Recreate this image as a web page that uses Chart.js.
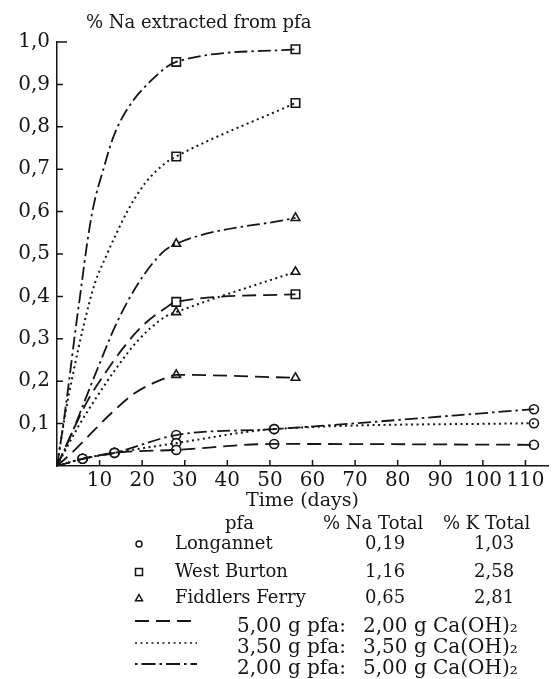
<!DOCTYPE html>
<html>
<head>
  <meta charset="UTF-8" />
  <title>% Na extracted from pfa</title>
  <style>
    body {
      margin: 0;
      background-color: white;
    }
    canvas {
      display: block;
    }
  </style>
  <script src="https://cdn.jsdelivr.net/npm/chart.js"></script>
</head>
<body>

<canvas id="chart" width="556" height="679"></canvas>

<script>
// Axis ticks
const X_TICKS = [10, 20, 30, 40, 50, 60, 70, 80, 90, 100, 110];
const Y_TICKS = [0.1, 0.2, 0.3, 0.4, 0.5, 0.6, 0.7, 0.8, 0.9, 1.0];

// Measured points (markers), days and % Na extracted
const DAYS_LG = [6, 13.5, 28, 51, 112];
const LG_DASH = [0.017, 0.031, 0.038, 0.052, 0.050];
const LG_DOT = [0.017, 0.031, 0.054, 0.087, 0.101];
const LG_DASHDOT = [0.017, 0.031, 0.073, 0.087, 0.134];

const DAYS_WB = [28, 56];
const WB_DASH = [0.387, 0.405];
const WB_DOT = [0.730, 0.856];
const WB_DASHDOT = [0.953, 0.983];

const DAYS_FF = [28, 56];
const FF_DASH = [0.215, 0.208];
const FF_DOT = [0.363, 0.458];
const FF_DASHDOT = [0.524, 0.585];

// Hand drawn curve from the origin up to the first marker
const TR_LG_X = [0];
const TR_LG_Y = [0];
const TR_WB_DASHDOT_X = [0, 1.5, 2.7, 4.2, 5.8, 7.0, 8.5, 10.9, 13.2, 16.4, 22.2];
const TR_WB_DASHDOT_Y = [0, 0.10, 0.19, 0.31, 0.43, 0.52, 0.61, 0.70, 0.775, 0.84, 0.91];
const TR_WB_DOT_X = [0, 1.9, 3.8, 6.2, 8.9, 11.5, 13.6, 16.7, 20.7, 25.4];
const TR_WB_DOT_Y = [0, 0.12, 0.219, 0.329, 0.431, 0.494, 0.541, 0.604, 0.667, 0.714];
const TR_WB_DASH_X = [0, 3.8, 7.3, 11.3, 15.2, 19.9, 25.4];
const TR_WB_DASH_Y = [0, 0.085, 0.156, 0.219, 0.274, 0.329, 0.372];
const TR_FF_DASHDOT_X = [0, 3.4, 6.6, 9.7, 14.0, 19.1, 24.6];
const TR_FF_DASHDOT_Y = [0, 0.075, 0.156, 0.234, 0.337, 0.431, 0.502];
const TR_FF_DOT_X = [0, 5.0, 8.9, 13.6, 19.1, 25.4];
const TR_FF_DOT_Y = [0, 0.093, 0.156, 0.226, 0.297, 0.352];
const TR_FF_DASH_X = [0, 4.2, 8.1, 12.8, 18.3, 25.4];
const TR_FF_DASH_Y = [0, 0.038, 0.078, 0.125, 0.172, 0.207];

// Legend table
const PFA_NAMES = ["Longannet", "West Burton", "Fiddlers Ferry"];
const NA_TOTAL = ["0,19", "1,16", "0,65"];
const K_TOTAL = ["1,03", "2,58", "2,81"];
const RATIO_PFA = ["5,00 g pfa:", "3,50 g pfa:", "2,00 g pfa:"];
const RATIO_CA = ["2,00 g Ca(OH)\u2082", "3,50 g Ca(OH)\u2082", "5,00 g Ca(OH)\u2082"];

const INK = "#151515";
const SERIF = "'DejaVu Serif', 'Liberation Serif', serif";
const DASHES = {
    dash: [14, 7],
    dot: [2, 3.5],
    dashdot: [13, 4, 2.5, 4]
};
const MARKERS = { LG: "circle", WB: "rect", FF: "triangle" };
const RADIUS = { circle: 4.5, rect: 6, triangle: 5 };

function pts(xs, ys) {
    return xs.map((x, i) => ({ x: x, y: ys[i] }));
}

const series = [
    { m: "LG", dash: "dash", tx: TR_LG_X, ty: TR_LG_Y, dx: DAYS_LG, dy: LG_DASH },
    { m: "LG", dash: "dot", tx: TR_LG_X, ty: TR_LG_Y, dx: DAYS_LG, dy: LG_DOT },
    { m: "LG", dash: "dashdot", tx: TR_LG_X, ty: TR_LG_Y, dx: DAYS_LG, dy: LG_DASHDOT },
    { m: "WB", dash: "dash", tx: TR_WB_DASH_X, ty: TR_WB_DASH_Y, dx: DAYS_WB, dy: WB_DASH },
    { m: "WB", dash: "dot", tx: TR_WB_DOT_X, ty: TR_WB_DOT_Y, dx: DAYS_WB, dy: WB_DOT },
    { m: "WB", dash: "dashdot", tx: TR_WB_DASHDOT_X, ty: TR_WB_DASHDOT_Y, dx: DAYS_WB, dy: WB_DASHDOT },
    { m: "FF", dash: "dash", tx: TR_FF_DASH_X, ty: TR_FF_DASH_Y, dx: DAYS_FF, dy: FF_DASH },
    { m: "FF", dash: "dot", tx: TR_FF_DOT_X, ty: TR_FF_DOT_Y, dx: DAYS_FF, dy: FF_DOT },
    { m: "FF", dash: "dashdot", tx: TR_FF_DASHDOT_X, ty: TR_FF_DASHDOT_Y, dx: DAYS_FF, dy: FF_DASHDOT }
];

const curveSets = series.map(s => ({
    data: pts(s.tx, s.ty).concat(pts(s.dx, s.dy)),
    borderColor: INK,
    borderWidth: s.dash === "dot" ? 2 : 1.8,
    borderDash: DASHES[s.dash],
    cubicInterpolationMode: "monotone",
    pointRadius: 0,
    fill: false
}));

const markerSets = series.map(s => ({
    data: pts(s.dx, s.dy),
    showLine: false,
    pointStyle: MARKERS[s.m],
    pointRadius: RADIUS[MARKERS[s.m]],
    pointBorderWidth: 1.6,
    pointBorderColor: INK,
    pointBackgroundColor: "white"
}));

// Inner tick marks, title and the legend table under the axis
function marker(ctx, style, x, y, r) {
    ctx.beginPath();
    if (style === "circle") {
        ctx.arc(x, y, r, 0, Math.PI * 2);
    } else if (style === "rect") {
        ctx.rect(x - r, y - r, 2 * r, 2 * r);
    } else {
        ctx.moveTo(x, y - r);
        ctx.lineTo(x + r, y + r * 0.8);
        ctx.lineTo(x - r, y + r * 0.8);
        ctx.closePath();
    }
    ctx.fillStyle = "white";
    ctx.fill();
    ctx.stroke();
}

const decor = {
    id: "decor",
    afterDraw(chart) {
        const ctx = chart.ctx;
        const xs = chart.scales.x;
        const ys = chart.scales.y;
        ctx.save();
        ctx.strokeStyle = INK;
        ctx.fillStyle = INK;
        ctx.lineWidth = 1.5;

        ctx.beginPath();
        X_TICKS.forEach(v => {
            const px = xs.getPixelForValue(v);
            ctx.moveTo(px, ys.bottom);
            ctx.lineTo(px, ys.bottom - 6);
        });
        Y_TICKS.forEach(v => {
            const py = ys.getPixelForValue(v);
            ctx.moveTo(xs.left, py);
            ctx.lineTo(xs.left + (v === 1 ? 10 : 6), py);
        });
        ctx.stroke();

        ctx.font = "18px " + SERIF;
        ctx.textBaseline = "alphabetic";
        ctx.fillStyle = INK;
        ctx.fillText("% Na extracted from pfa", 86, 28);

        // header
        ctx.fillText("pfa", 225, 529);
        ctx.fillText("% Na Total", 323, 529);
        ctx.fillText("% K Total", 443, 529);

        const rowBase = [549, 577, 603];
        const rowMarker = ["circle", "rect", "triangle"];
        const rowR = [3, 3.5, 3.5];
        rowBase.forEach((b, i) => {
            ctx.lineWidth = 1.5;
            marker(ctx, rowMarker[i], 139, b - 5, rowR[i]);
            ctx.fillStyle = INK;
            ctx.fillText(PFA_NAMES[i], 175, b);
            ctx.fillText(NA_TOTAL[i], 365, b);
            ctx.fillText(K_TOTAL[i], 474, b);
        });

        const lineY = [621, 643, 664];
        const lineBase = [632, 653, 674];
        const lineDash = [DASHES.dash, DASHES.dot, [2.5, 4, 14, 4]];
        ctx.font = "20px " + SERIF;
        lineY.forEach((y, i) => {
            ctx.setLineDash(lineDash[i]);
            ctx.lineWidth = i === 1 ? 1.5 : 2;
            ctx.beginPath();
            ctx.moveTo(135, y);
            ctx.lineTo(197, y);
            ctx.stroke();
            ctx.setLineDash([]);
            ctx.fillText(RATIO_PFA[i], 237, lineBase[i]);
            ctx.fillText(RATIO_CA[i], 363, lineBase[i]);
        });
        ctx.restore();
    }
};

new Chart(document.getElementById("chart").getContext("2d"), {
    type: "line",
    data: { datasets: curveSets.concat(markerSets) },
    options: {
        responsive: false,
        animation: false,
        layout: { padding: { left: 0, top: 42, right: 8, bottom: 167 } },
        plugins: { legend: { display: false }, tooltip: { enabled: false } },
        scales: {
            x: {
                type: "linear",
                min: 0,
                max: 115.3,
                afterBuildTicks: s => { s.ticks = X_TICKS.map(v => ({ value: v })); },
                afterFit: s => { s.height = 46; },
                grid: { drawOnChartArea: false, drawTicks: false },
                border: { color: INK, width: 1.5 },
                ticks: { color: INK, font: { family: SERIF, size: 20 }, padding: 3, maxRotation: 0, autoSkip: false },
                title: { display: true, text: "Time (days)", color: INK, font: { family: SERIF, size: 19 }, padding: 0 }
            },
            y: {
                min: 0,
                max: 1,
                afterBuildTicks: s => { s.ticks = Y_TICKS.map(v => ({ value: v })); },
                afterFit: s => { s.width = 57; },
                grid: { drawOnChartArea: false, drawTicks: false },
                border: { color: INK, width: 1.5 },
                ticks: {
                    color: INK,
                    font: { family: SERIF, size: 20 },
                    padding: 7,
                    autoSkip: false,
                    callback: v => v.toFixed(1).replace(".", ",")
                }
            }
        }
    },
    plugins: [decor]
});
</script>

</body>
</html>
